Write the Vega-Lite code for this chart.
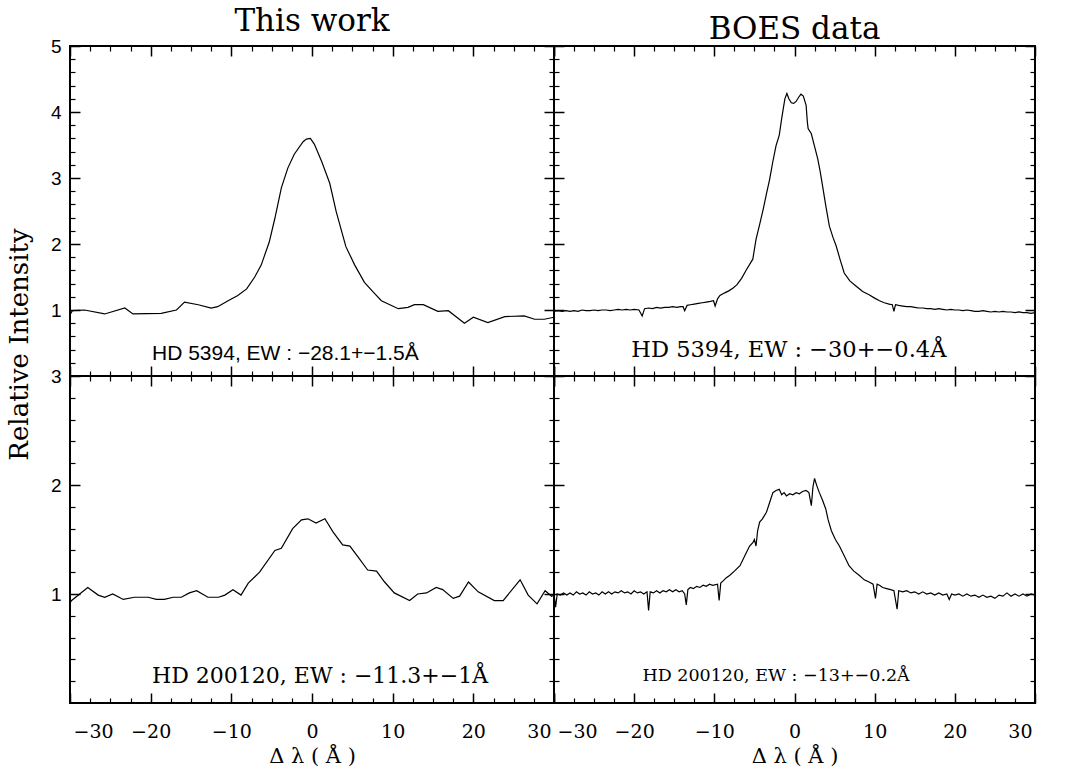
{
"$schema": "https://vega.github.io/schema/vega-lite/v6.json",
"background": "white",
"padding": 5,
"bounds": "flush",
"spacing": 0,
"columns": 2,
"config": {"view": {"stroke": "black", "strokeWidth": 2}, "axis": {"grid": false, "domain": false, "ticks": true, "zindex": 1, "tickOpacity": 1, "tickColor": "black", "labelColor": "black", "titleColor": "black"}},
"datasets": {
"tl": [{"x":-30,"y":0.93},{"x":-29.7,"y":0.99},{"x":-28.2,"y":1.0},{"x":-25.7,"y":0.94},{"x":-23.2,"y":1.03},{"x":-22.2,"y":0.94},{"x":-18.7,"y":0.95},{"x":-16.8,"y":1.0},{"x":-15.8,"y":1.12},{"x":-14.1,"y":1.08},{"x":-12.5,"y":1.03},{"x":-11.7,"y":1.05},{"x":-10.4,"y":1.14},{"x":-9.2,"y":1.22},{"x":-8.1,"y":1.32},{"x":-7.1,"y":1.5},{"x":-6.3,"y":1.68},{"x":-5.3,"y":2.03},{"x":-4.6,"y":2.39},{"x":-3.8,"y":2.85},{"x":-3.0,"y":3.15},{"x":-2.2,"y":3.36},{"x":-1.1,"y":3.55},{"x":-0.7,"y":3.59},{"x":-0.2,"y":3.6},{"x":0.3,"y":3.51},{"x":1.2,"y":3.25},{"x":2.2,"y":2.92},{"x":3.0,"y":2.49},{"x":4.2,"y":1.96},{"x":5.3,"y":1.68},{"x":6.5,"y":1.42},{"x":7.6,"y":1.27},{"x":8.6,"y":1.14},{"x":10.7,"y":1.02},{"x":11.9,"y":1.04},{"x":12.7,"y":1.08},{"x":13.8,"y":1.08},{"x":15.6,"y":0.98},{"x":16.9,"y":0.99},{"x":18.9,"y":0.8},{"x":20.0,"y":0.89},{"x":21.8,"y":0.81},{"x":23.9,"y":0.9},{"x":26.3,"y":0.91},{"x":27.6,"y":0.86},{"x":28.8,"y":0.86},{"x":30,"y":0.89}],
"tr": [{"x":-30.0,"y":0.98},{"x":-29.5,"y":0.99},{"x":-29.0,"y":0.98},{"x":-28.5,"y":0.99},{"x":-28.0,"y":0.98},{"x":-27.5,"y":0.99},{"x":-27.0,"y":0.98},{"x":-26.5,"y":1.0},{"x":-26.0,"y":0.99},{"x":-25.5,"y":0.99},{"x":-25.0,"y":1.0},{"x":-24.5,"y":0.99},{"x":-24.0,"y":1.0},{"x":-23.5,"y":1.0},{"x":-23.0,"y":0.99},{"x":-22.5,"y":1.0},{"x":-22.0,"y":1.01},{"x":-21.5,"y":1.0},{"x":-21.0,"y":1.01},{"x":-20.5,"y":1.0},{"x":-20.0,"y":1.01},{"x":-19.4,"y":1.0},{"x":-19.0,"y":0.91},{"x":-18.7,"y":1.02},{"x":-18.2,"y":1.03},{"x":-17.7,"y":1.02},{"x":-17.2,"y":1.04},{"x":-16.7,"y":1.03},{"x":-16.2,"y":1.04},{"x":-15.7,"y":1.04},{"x":-15.2,"y":1.05},{"x":-14.7,"y":1.04},{"x":-14.2,"y":1.05},{"x":-13.9,"y":1.05},{"x":-13.7,"y":0.99},{"x":-13.4,"y":1.07},{"x":-13.0,"y":1.08},{"x":-12.5,"y":1.09},{"x":-12.0,"y":1.1},{"x":-11.5,"y":1.11},{"x":-11.0,"y":1.12},{"x":-10.5,"y":1.13},{"x":-10.1,"y":1.14},{"x":-9.9,"y":1.06},{"x":-9.6,"y":1.17},{"x":-9.3,"y":1.22},{"x":-8.7,"y":1.26},{"x":-8.2,"y":1.29},{"x":-7.7,"y":1.33},{"x":-7.2,"y":1.38},{"x":-6.6,"y":1.48},{"x":-6.0,"y":1.61},{"x":-5.2,"y":1.77},{"x":-4.8,"y":2.07},{"x":-4.3,"y":2.32},{"x":-3.9,"y":2.53},{"x":-3.5,"y":2.76},{"x":-3.1,"y":2.98},{"x":-2.7,"y":3.25},{"x":-2.3,"y":3.49},{"x":-1.9,"y":3.65},{"x":-1.6,"y":3.9},{"x":-1.4,"y":4.05},{"x":-1.2,"y":4.2},{"x":-0.95,"y":4.28},{"x":-0.7,"y":4.2},{"x":-0.4,"y":4.14},{"x":-0.1,"y":4.13},{"x":0.2,"y":4.16},{"x":0.5,"y":4.22},{"x":0.8,"y":4.27},{"x":1.1,"y":4.24},{"x":1.45,"y":4.1},{"x":1.6,"y":3.85},{"x":1.7,"y":3.75},{"x":2.1,"y":3.67},{"x":2.5,"y":3.48},{"x":2.9,"y":3.29},{"x":3.2,"y":3.1},{"x":3.5,"y":2.88},{"x":3.9,"y":2.58},{"x":4.35,"y":2.27},{"x":4.8,"y":2.1},{"x":5.2,"y":1.97},{"x":5.7,"y":1.76},{"x":6.2,"y":1.56},{"x":6.9,"y":1.44},{"x":7.7,"y":1.36},{"x":8.5,"y":1.28},{"x":9.3,"y":1.23},{"x":10.0,"y":1.18},{"x":10.6,"y":1.14},{"x":11.2,"y":1.11},{"x":11.8,"y":1.09},{"x":12.2,"y":1.08},{"x":12.4,"y":0.98},{"x":12.6,"y":1.08},{"x":13.0,"y":1.07},{"x":13.5,"y":1.06},{"x":14.0,"y":1.05},{"x":14.5,"y":1.05},{"x":15.0,"y":1.04},{"x":15.5,"y":1.03},{"x":16.0,"y":1.03},{"x":16.5,"y":1.02},{"x":17.0,"y":1.02},{"x":17.5,"y":1.01},{"x":18.0,"y":1.02},{"x":18.5,"y":1.01},{"x":19.0,"y":1.0},{"x":19.5,"y":1.01},{"x":20.0,"y":1.0},{"x":20.5,"y":1.0},{"x":21.0,"y":0.99},{"x":21.5,"y":1.0},{"x":22.0,"y":0.99},{"x":22.5,"y":0.98},{"x":23.0,"y":0.98},{"x":23.5,"y":0.99},{"x":24.0,"y":0.98},{"x":24.5,"y":0.97},{"x":25.0,"y":0.98},{"x":25.5,"y":0.97},{"x":26.0,"y":0.98},{"x":26.5,"y":0.97},{"x":27.0,"y":0.97},{"x":27.5,"y":0.96},{"x":28.0,"y":0.97},{"x":28.5,"y":0.96},{"x":29.0,"y":0.96},{"x":29.5,"y":0.95},{"x":30.0,"y":0.96}],
"bl": [{"x":-30,"y":0.92},{"x":-29.8,"y":0.94},{"x":-27.8,"y":1.06},{"x":-26.5,"y":0.99},{"x":-25.7,"y":0.97},{"x":-24.7,"y":1.0},{"x":-23.4,"y":0.95},{"x":-22.0,"y":0.97},{"x":-20.3,"y":0.97},{"x":-19.3,"y":0.95},{"x":-18.3,"y":0.95},{"x":-17.2,"y":0.97},{"x":-16.2,"y":0.97},{"x":-15.2,"y":1.01},{"x":-14.3,"y":1.03},{"x":-12.9,"y":0.97},{"x":-11.6,"y":0.97},{"x":-10.8,"y":0.99},{"x":-9.8,"y":1.04},{"x":-8.8,"y":0.99},{"x":-7.9,"y":1.1},{"x":-6.5,"y":1.2},{"x":-4.6,"y":1.4},{"x":-3.8,"y":1.42},{"x":-2.4,"y":1.6},{"x":-1.3,"y":1.68},{"x":-0.5,"y":1.69},{"x":0.5,"y":1.65},{"x":1.6,"y":1.69},{"x":2.6,"y":1.57},{"x":3.8,"y":1.45},{"x":4.7,"y":1.44},{"x":5.7,"y":1.34},{"x":6.9,"y":1.22},{"x":8.0,"y":1.21},{"x":9.0,"y":1.11},{"x":10.2,"y":1.01},{"x":12.1,"y":0.94},{"x":13.1,"y":1.0},{"x":14.2,"y":1.01},{"x":15.4,"y":1.06},{"x":16.2,"y":1.04},{"x":17.5,"y":0.96},{"x":18.3,"y":0.98},{"x":19.4,"y":1.11},{"x":20.6,"y":1.02},{"x":22.6,"y":0.94},{"x":23.7,"y":0.94},{"x":25.8,"y":1.13},{"x":26.8,"y":0.99},{"x":27.9,"y":0.91},{"x":28.9,"y":1.03},{"x":29.7,"y":0.98},{"x":30,"y":0.99}],
"br": [{"x":-30.0,"y":1.0},{"x":-29.8,"y":0.88},{"x":-29.6,"y":1.0},{"x":-29.2,"y":0.99},{"x":-28.8,"y":1.01},{"x":-28.4,"y":0.99},{"x":-28.0,"y":1.01},{"x":-27.6,"y":0.99},{"x":-27.2,"y":1.02},{"x":-26.8,"y":1.0},{"x":-26.4,"y":1.01},{"x":-26.0,"y":0.99},{"x":-25.6,"y":1.02},{"x":-25.2,"y":1.0},{"x":-24.8,"y":1.01},{"x":-24.4,"y":0.99},{"x":-24.0,"y":1.02},{"x":-23.6,"y":1.0},{"x":-23.2,"y":1.02},{"x":-22.8,"y":1.0},{"x":-22.4,"y":1.02},{"x":-22.0,"y":1.01},{"x":-21.6,"y":1.03},{"x":-21.2,"y":1.01},{"x":-20.8,"y":1.02},{"x":-20.4,"y":1.0},{"x":-20.0,"y":1.03},{"x":-19.6,"y":1.01},{"x":-19.2,"y":1.02},{"x":-18.8,"y":1.0},{"x":-18.4,"y":1.02},{"x":-18.2,"y":0.85},{"x":-18.0,"y":1.02},{"x":-17.6,"y":1.01},{"x":-17.2,"y":1.03},{"x":-16.8,"y":1.01},{"x":-16.4,"y":1.03},{"x":-16.0,"y":1.02},{"x":-15.6,"y":1.04},{"x":-15.2,"y":1.02},{"x":-14.8,"y":1.04},{"x":-14.4,"y":1.02},{"x":-14.0,"y":1.03},{"x":-13.7,"y":1.0},{"x":-13.5,"y":0.9},{"x":-13.3,"y":1.04},{"x":-13.0,"y":1.06},{"x":-12.6,"y":1.05},{"x":-12.2,"y":1.07},{"x":-11.8,"y":1.06},{"x":-11.4,"y":1.08},{"x":-11.0,"y":1.07},{"x":-10.6,"y":1.09},{"x":-10.2,"y":1.08},{"x":-9.6,"y":1.09},{"x":-9.4,"y":0.94},{"x":-9.2,"y":1.1},{"x":-8.9,"y":1.12},{"x":-8.5,"y":1.15},{"x":-8.1,"y":1.17},{"x":-7.5,"y":1.21},{"x":-6.8,"y":1.26},{"x":-6.2,"y":1.35},{"x":-5.6,"y":1.44},{"x":-5.2,"y":1.47},{"x":-5.0,"y":1.5},{"x":-4.8,"y":1.44},{"x":-4.6,"y":1.58},{"x":-4.35,"y":1.66},{"x":-4.0,"y":1.69},{"x":-3.5,"y":1.75},{"x":-3.1,"y":1.84},{"x":-2.7,"y":1.93},{"x":-2.3,"y":1.95},{"x":-1.9,"y":1.96},{"x":-1.6,"y":1.91},{"x":-1.3,"y":1.93},{"x":-1.0,"y":1.9},{"x":-0.6,"y":1.92},{"x":-0.2,"y":1.91},{"x":0.2,"y":1.93},{"x":0.6,"y":1.92},{"x":1.0,"y":1.94},{"x":1.45,"y":1.95},{"x":1.8,"y":1.93},{"x":2.1,"y":1.81},{"x":2.3,"y":1.98},{"x":2.5,"y":2.06},{"x":2.8,"y":1.99},{"x":3.1,"y":1.93},{"x":3.5,"y":1.86},{"x":3.9,"y":1.78},{"x":4.2,"y":1.68},{"x":4.6,"y":1.58},{"x":5.1,"y":1.5},{"x":5.6,"y":1.44},{"x":6.2,"y":1.35},{"x":6.8,"y":1.26},{"x":7.4,"y":1.21},{"x":8.1,"y":1.17},{"x":8.7,"y":1.13},{"x":9.3,"y":1.11},{"x":9.8,"y":1.09},{"x":10.1,"y":0.96},{"x":10.3,"y":1.09},{"x":10.6,"y":1.08},{"x":11.0,"y":1.06},{"x":11.5,"y":1.05},{"x":12.0,"y":1.04},{"x":12.4,"y":1.03},{"x":12.8,"y":0.86},{"x":13.0,"y":1.03},{"x":13.5,"y":1.02},{"x":14.0,"y":1.03},{"x":14.5,"y":1.01},{"x":15.0,"y":1.02},{"x":15.5,"y":1.0},{"x":16.0,"y":1.02},{"x":16.5,"y":1.0},{"x":17.0,"y":1.01},{"x":17.5,"y":0.99},{"x":18.0,"y":1.01},{"x":18.5,"y":0.99},{"x":19.0,"y":1.0},{"x":19.3,"y":0.95},{"x":19.6,"y":1.0},{"x":20.0,"y":0.99},{"x":20.5,"y":1.0},{"x":21.0,"y":0.98},{"x":21.5,"y":1.0},{"x":22.0,"y":0.98},{"x":22.5,"y":0.99},{"x":23.0,"y":0.97},{"x":23.5,"y":0.99},{"x":24.0,"y":0.97},{"x":24.5,"y":0.98},{"x":25.0,"y":0.96},{"x":25.5,"y":0.99},{"x":26.0,"y":0.98},{"x":26.5,"y":1.01},{"x":27.0,"y":0.98},{"x":27.5,"y":1.0},{"x":28.0,"y":0.98},{"x":28.5,"y":1.0},{"x":29.0,"y":0.98},{"x":29.5,"y":1.0},{"x":30.0,"y":0.99}]
},
"concat": [
{
 "width": 484, "height": 330,
 "title": {"text": "This work", "font": "DejaVu Serif", "fontSize": 31, "fontWeight": "normal", "color": "black", "offset": -1},
 "data": {"name": "tl"},
 "layer": [
  {"mark": {"type": "line", "color": "black", "strokeWidth": 1.2, "clip": true},
   "encoding": {
    "x": {"field": "x", "type": "quantitative", "scale": {"domain": [-30, 30], "nice": false}, "axis": {"orient": "bottom", "values": [-30,-20,-10,0,10,20,30], "tickSize": -10, "tickWidth": 1.5, "labels": false, "title": null}},
    "y": {"field": "y", "type": "quantitative", "scale": {"domain": [0, 5], "nice": false}, "axis": {"orient": "left", "values": [1,2,3,4,5], "tickSize": -10, "tickWidth": 1.5, "labelFont": "Liberation Sans", "labelFontSize": 19, "labelPadding": 19, "title": "Relative Intensity", "titleFont": "DejaVu Serif", "titleFontSize": 26, "titleFontWeight": "normal", "titleX": -51, "titleY": 298, "titleBaseline": "middle", "titleAlign": "center", "titleAngle": 270}}}},
  {"mark": {"type": "point", "opacity": 0},
   "encoding": {
    "x": {"field": "x", "type": "quantitative", "scale": {"domain": [-30, 30], "nice": false}, "axis": {"orient": "top", "values": [-30,-20,-10,0,10,20,30], "tickSize": -10, "tickWidth": 1.5, "labels": false, "title": null}},
    "y": {"field": "y", "type": "quantitative", "scale": {"domain": [0, 5], "nice": false}, "axis": {"orient": "right", "values": [1,2,3,4,5], "tickSize": -10, "tickWidth": 1.5, "labels": false, "title": null}}}},
  {"mark": {"type": "point", "opacity": 0},
   "encoding": {
    "x": {"field": "x", "type": "quantitative", "scale": {"domain": [-30, 30], "nice": false}, "axis": {"orient": "bottom", "values": [-27.5,-25,-22.5,-17.5,-15,-12.5,-7.5,-5,-2.5,2.5,5,7.5,12.5,15,17.5,22.5,25,27.5], "tickSize": -5, "tickWidth": 1.2, "labels": false, "title": null}},
    "y": {"field": "y", "type": "quantitative", "scale": {"domain": [0, 5], "nice": false}, "axis": {"orient": "left", "values": [0.2,0.4,0.6,0.8,1.2,1.4,1.6,1.8,2.2,2.4,2.6,2.8,3.2,3.4,3.6,3.8,4.2,4.4,4.6,4.8], "tickSize": -5, "tickWidth": 1.2, "labels": false, "title": null}}}},
  {"mark": {"type": "point", "opacity": 0},
   "encoding": {
    "x": {"field": "x", "type": "quantitative", "scale": {"domain": [-30, 30], "nice": false}, "axis": {"orient": "top", "values": [-27.5,-25,-22.5,-17.5,-15,-12.5,-7.5,-5,-2.5,2.5,5,7.5,12.5,15,17.5,22.5,25,27.5], "tickSize": -5, "tickWidth": 1.2, "labels": false, "title": null}},
    "y": {"field": "y", "type": "quantitative", "scale": {"domain": [0, 5], "nice": false}, "axis": {"orient": "right", "values": [0.2,0.4,0.6,0.8,1.2,1.4,1.6,1.8,2.2,2.4,2.6,2.8,3.2,3.4,3.6,3.8,4.2,4.4,4.6,4.8], "tickSize": -5, "tickWidth": 1.2, "labels": false, "title": null}}}},
  {"data": {"values": [{"x": -3.3, "y": 0.34, "t": "HD 5394, EW : −28.1+−1.5Å"}]}, "mark": {"type": "text", "font": "Liberation Sans", "fontSize": 21, "color": "black", "align": "center", "baseline": "middle"},
   "encoding": {
    "x": {"field": "x", "type": "quantitative", "scale": {"domain": [-30, 30], "nice": false}, "axis": null},
    "y": {"field": "y", "type": "quantitative", "scale": {"domain": [0, 5], "nice": false}, "axis": null},
    "text": {"field": "t"}}}
 ],
 "resolve": {"axis": {"x": "independent", "y": "independent"}}
},
{
 "width": 481, "height": 330,
 "title": {"text": "BOES data", "font": "DejaVu Serif", "fontSize": 31, "fontWeight": "normal", "color": "black", "offset": -1},
 "data": {"name": "tr"},
 "layer": [
  {"mark": {"type": "line", "color": "black", "strokeWidth": 1.2, "clip": true},
   "encoding": {
    "x": {"field": "x", "type": "quantitative", "scale": {"domain": [-30, 30], "nice": false}, "axis": {"orient": "bottom", "values": [-30,-20,-10,0,10,20,30], "tickSize": -10, "tickWidth": 1.5, "labels": false, "title": null}},
    "y": {"field": "y", "type": "quantitative", "scale": {"domain": [0, 5], "nice": false}, "axis": {"orient": "left", "values": [1,2,3,4,5], "tickSize": -10, "tickWidth": 1.5, "labels": false, "title": null}}}},
  {"mark": {"type": "point", "opacity": 0},
   "encoding": {
    "x": {"field": "x", "type": "quantitative", "scale": {"domain": [-30, 30], "nice": false}, "axis": {"orient": "top", "values": [-30,-20,-10,0,10,20,30], "tickSize": -10, "tickWidth": 1.5, "labels": false, "title": null}},
    "y": {"field": "y", "type": "quantitative", "scale": {"domain": [0, 5], "nice": false}, "axis": {"orient": "right", "values": [1,2,3,4,5], "tickSize": -10, "tickWidth": 1.5, "labels": false, "title": null}}}},
  {"mark": {"type": "point", "opacity": 0},
   "encoding": {
    "x": {"field": "x", "type": "quantitative", "scale": {"domain": [-30, 30], "nice": false}, "axis": {"orient": "bottom", "values": [-27.5,-25,-22.5,-17.5,-15,-12.5,-7.5,-5,-2.5,2.5,5,7.5,12.5,15,17.5,22.5,25,27.5], "tickSize": -5, "tickWidth": 1.2, "labels": false, "title": null}},
    "y": {"field": "y", "type": "quantitative", "scale": {"domain": [0, 5], "nice": false}, "axis": {"orient": "left", "values": [0.2,0.4,0.6,0.8,1.2,1.4,1.6,1.8,2.2,2.4,2.6,2.8,3.2,3.4,3.6,3.8,4.2,4.4,4.6,4.8], "tickSize": -5, "tickWidth": 1.2, "labels": false, "title": null}}}},
  {"mark": {"type": "point", "opacity": 0},
   "encoding": {
    "x": {"field": "x", "type": "quantitative", "scale": {"domain": [-30, 30], "nice": false}, "axis": {"orient": "top", "values": [-27.5,-25,-22.5,-17.5,-15,-12.5,-7.5,-5,-2.5,2.5,5,7.5,12.5,15,17.5,22.5,25,27.5], "tickSize": -5, "tickWidth": 1.2, "labels": false, "title": null}},
    "y": {"field": "y", "type": "quantitative", "scale": {"domain": [0, 5], "nice": false}, "axis": {"orient": "right", "values": [0.2,0.4,0.6,0.8,1.2,1.4,1.6,1.8,2.2,2.4,2.6,2.8,3.2,3.4,3.6,3.8,4.2,4.4,4.6,4.8], "tickSize": -5, "tickWidth": 1.2, "labels": false, "title": null}}}},
  {"data": {"values": [{"x": -0.7, "y": 0.39, "t": "HD 5394, EW : −30+−0.4Å"}]}, "mark": {"type": "text", "font": "DejaVu Serif", "fontSize": 22.5, "color": "black", "align": "center", "baseline": "middle"},
   "encoding": {
    "x": {"field": "x", "type": "quantitative", "scale": {"domain": [-30, 30], "nice": false}, "axis": null},
    "y": {"field": "y", "type": "quantitative", "scale": {"domain": [0, 5], "nice": false}, "axis": null},
    "text": {"field": "t"}}}
 ],
 "resolve": {"axis": {"x": "independent", "y": "independent"}}
},
{
 "width": 484, "height": 327,
 "data": {"name": "bl"},
 "layer": [
  {"mark": {"type": "line", "color": "black", "strokeWidth": 1.2, "clip": true},
   "encoding": {
    "x": {"field": "x", "type": "quantitative", "scale": {"domain": [-30, 30], "nice": false}, "axis": {"orient": "bottom", "values": [-30,-20,-10,0,10,20,30], "tickSize": -10, "tickWidth": 1.5, "labelFont": "DejaVu Serif", "labelFontSize": 19, "labelPadding": 29, "labelFlush": true, "labelFlushOffset": -3, "title": "Δ λ ( Å )", "titleFont": "DejaVu Serif", "titleFontSize": 21, "titleFontWeight": "normal", "titlePadding": 4}},
    "y": {"field": "y", "type": "quantitative", "scale": {"domain": [0, 3], "nice": false}, "axis": {"orient": "left", "values": [1,2,3], "tickSize": -10, "tickWidth": 1.5, "labelFont": "Liberation Sans", "labelFontSize": 19, "labelPadding": 19, "title": null}}}},
  {"mark": {"type": "point", "opacity": 0},
   "encoding": {
    "x": {"field": "x", "type": "quantitative", "scale": {"domain": [-30, 30], "nice": false}, "axis": {"orient": "top", "values": [-30,-20,-10,0,10,20,30], "tickSize": -10, "tickWidth": 1.5, "labels": false, "title": null}},
    "y": {"field": "y", "type": "quantitative", "scale": {"domain": [0, 3], "nice": false}, "axis": {"orient": "right", "values": [1,2,3], "tickSize": -10, "tickWidth": 1.5, "labels": false, "title": null}}}},
  {"mark": {"type": "point", "opacity": 0},
   "encoding": {
    "x": {"field": "x", "type": "quantitative", "scale": {"domain": [-30, 30], "nice": false}, "axis": {"orient": "bottom", "values": [-27.5,-25,-22.5,-17.5,-15,-12.5,-7.5,-5,-2.5,2.5,5,7.5,12.5,15,17.5,22.5,25,27.5], "tickSize": -5, "tickWidth": 1.2, "labels": false, "title": null}},
    "y": {"field": "y", "type": "quantitative", "scale": {"domain": [0, 3], "nice": false}, "axis": {"orient": "left", "values": [0.2,0.4,0.6,0.8,1.2,1.4,1.6,1.8,2.2,2.4,2.6,2.8], "tickSize": -5, "tickWidth": 1.2, "labels": false, "title": null}}}},
  {"mark": {"type": "point", "opacity": 0},
   "encoding": {
    "x": {"field": "x", "type": "quantitative", "scale": {"domain": [-30, 30], "nice": false}, "axis": {"orient": "top", "values": [-27.5,-25,-22.5,-17.5,-15,-12.5,-7.5,-5,-2.5,2.5,5,7.5,12.5,15,17.5,22.5,25,27.5], "tickSize": -5, "tickWidth": 1.2, "labels": false, "title": null}},
    "y": {"field": "y", "type": "quantitative", "scale": {"domain": [0, 3], "nice": false}, "axis": {"orient": "right", "values": [0.2,0.4,0.6,0.8,1.2,1.4,1.6,1.8,2.2,2.4,2.6,2.8], "tickSize": -5, "tickWidth": 1.2, "labels": false, "title": null}}}},
  {"data": {"values": [{"x": 1.0, "y": 0.25, "t": "HD 200120, EW : −11.3+−1Å"}]}, "mark": {"type": "text", "font": "DejaVu Serif", "fontSize": 22, "color": "black", "align": "center", "baseline": "middle"},
   "encoding": {
    "x": {"field": "x", "type": "quantitative", "scale": {"domain": [-30, 30], "nice": false}, "axis": null},
    "y": {"field": "y", "type": "quantitative", "scale": {"domain": [0, 3], "nice": false}, "axis": null},
    "text": {"field": "t"}}}
 ],
 "resolve": {"axis": {"x": "independent", "y": "independent"}}
},
{
 "width": 481, "height": 327,
 "data": {"name": "br"},
 "layer": [
  {"mark": {"type": "line", "color": "black", "strokeWidth": 1.2, "clip": true},
   "encoding": {
    "x": {"field": "x", "type": "quantitative", "scale": {"domain": [-30, 30], "nice": false}, "axis": {"orient": "bottom", "values": [-30,-20,-10,0,10,20,30], "tickSize": -10, "tickWidth": 1.5, "labelFont": "DejaVu Serif", "labelFontSize": 19, "labelPadding": 29, "labelFlush": true, "labelFlushOffset": -3, "title": "Δ λ ( Å )", "titleFont": "DejaVu Serif", "titleFontSize": 21, "titleFontWeight": "normal", "titlePadding": 4}},
    "y": {"field": "y", "type": "quantitative", "scale": {"domain": [0, 3], "nice": false}, "axis": {"orient": "left", "values": [1,2,3], "tickSize": -10, "tickWidth": 1.5, "labels": false, "title": null}}}},
  {"mark": {"type": "point", "opacity": 0},
   "encoding": {
    "x": {"field": "x", "type": "quantitative", "scale": {"domain": [-30, 30], "nice": false}, "axis": {"orient": "top", "values": [-30,-20,-10,0,10,20,30], "tickSize": -10, "tickWidth": 1.5, "labels": false, "title": null}},
    "y": {"field": "y", "type": "quantitative", "scale": {"domain": [0, 3], "nice": false}, "axis": {"orient": "right", "values": [1,2,3], "tickSize": -10, "tickWidth": 1.5, "labels": false, "title": null}}}},
  {"mark": {"type": "point", "opacity": 0},
   "encoding": {
    "x": {"field": "x", "type": "quantitative", "scale": {"domain": [-30, 30], "nice": false}, "axis": {"orient": "bottom", "values": [-27.5,-25,-22.5,-17.5,-15,-12.5,-7.5,-5,-2.5,2.5,5,7.5,12.5,15,17.5,22.5,25,27.5], "tickSize": -5, "tickWidth": 1.2, "labels": false, "title": null}},
    "y": {"field": "y", "type": "quantitative", "scale": {"domain": [0, 3], "nice": false}, "axis": {"orient": "left", "values": [0.2,0.4,0.6,0.8,1.2,1.4,1.6,1.8,2.2,2.4,2.6,2.8], "tickSize": -5, "tickWidth": 1.2, "labels": false, "title": null}}}},
  {"mark": {"type": "point", "opacity": 0},
   "encoding": {
    "x": {"field": "x", "type": "quantitative", "scale": {"domain": [-30, 30], "nice": false}, "axis": {"orient": "top", "values": [-27.5,-25,-22.5,-17.5,-15,-12.5,-7.5,-5,-2.5,2.5,5,7.5,12.5,15,17.5,22.5,25,27.5], "tickSize": -5, "tickWidth": 1.2, "labels": false, "title": null}},
    "y": {"field": "y", "type": "quantitative", "scale": {"domain": [0, 3], "nice": false}, "axis": {"orient": "right", "values": [0.2,0.4,0.6,0.8,1.2,1.4,1.6,1.8,2.2,2.4,2.6,2.8], "tickSize": -5, "tickWidth": 1.2, "labels": false, "title": null}}}},
  {"data": {"values": [{"x": -2.3, "y": 0.25, "t": "HD 200120, EW : −13+−0.2Å"}]}, "mark": {"type": "text", "font": "DejaVu Serif", "fontSize": 17.5, "color": "black", "align": "center", "baseline": "middle"},
   "encoding": {
    "x": {"field": "x", "type": "quantitative", "scale": {"domain": [-30, 30], "nice": false}, "axis": null},
    "y": {"field": "y", "type": "quantitative", "scale": {"domain": [0, 3], "nice": false}, "axis": null},
    "text": {"field": "t"}}}
 ],
 "resolve": {"axis": {"x": "independent", "y": "independent"}}
}
]
}
